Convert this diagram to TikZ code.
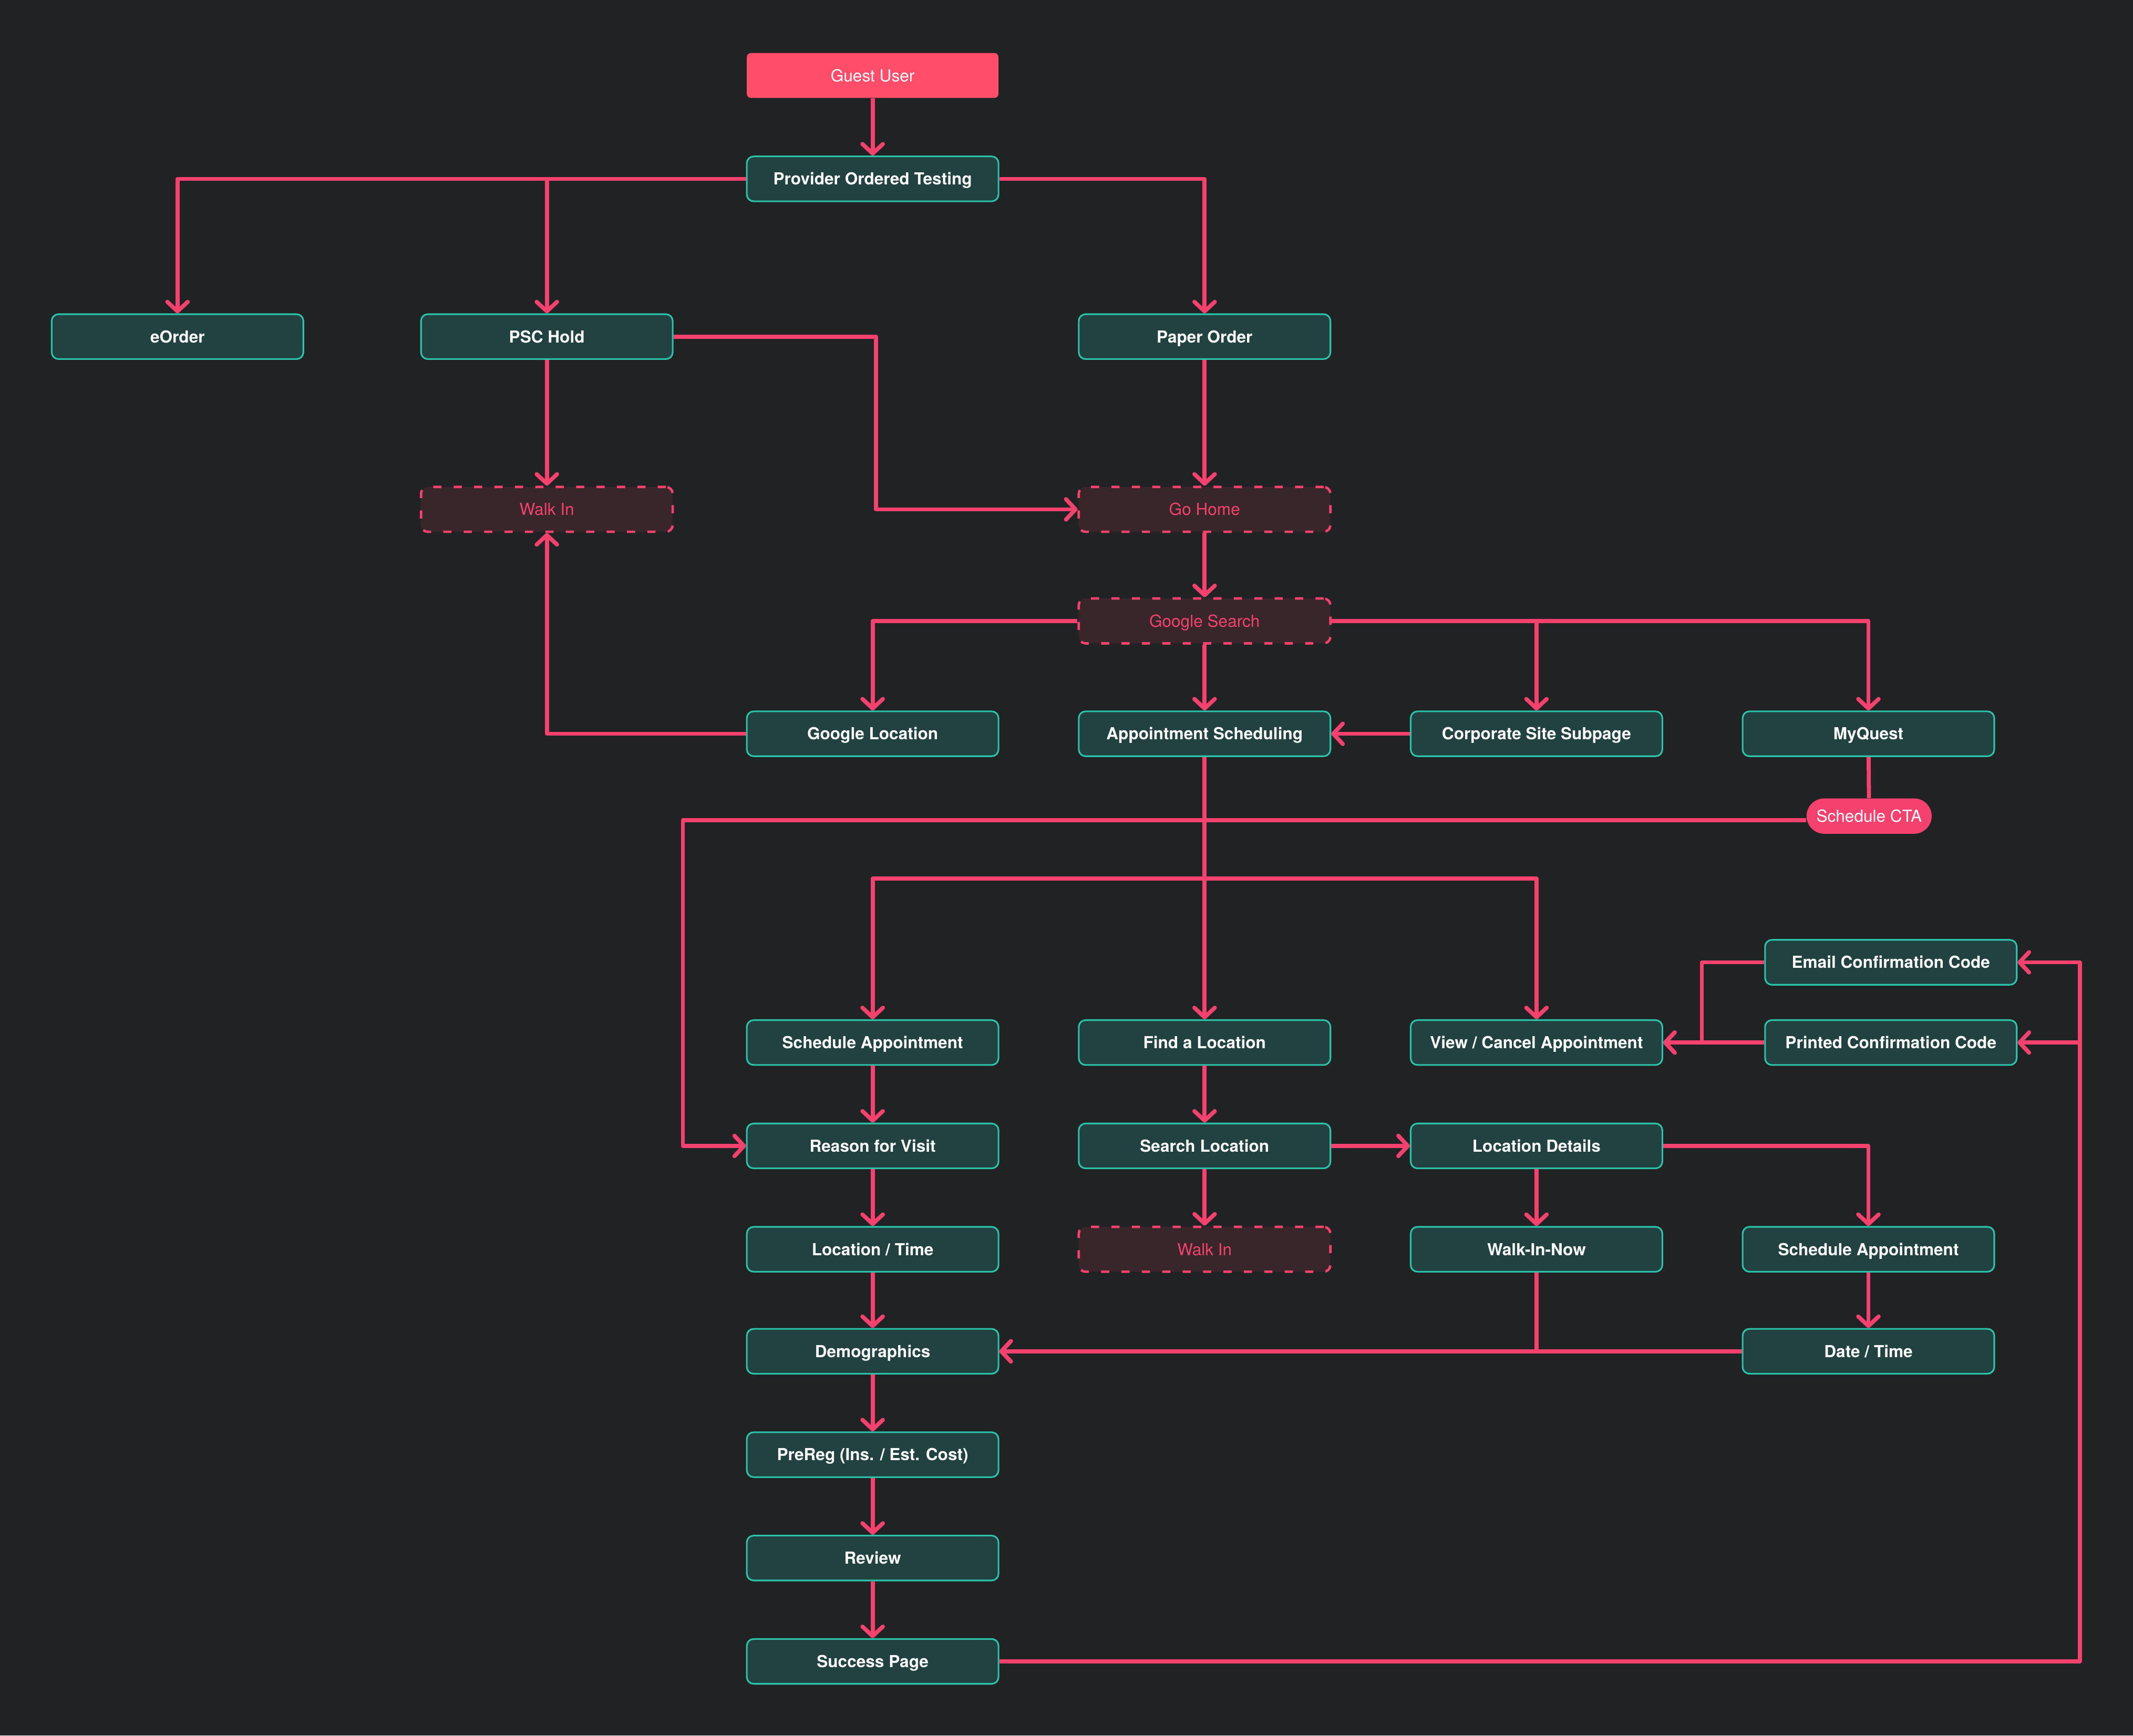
\documentclass[tikz,border=0pt]{standalone}
\usepackage{fontspec}
\setmainfont{TeX Gyre Heros}
\usetikzlibrary{arrows.meta,calc}
\definecolor{bgc}{HTML}{212224}
\definecolor{tealfill}{HTML}{224241}
\definecolor{tealline}{HTML}{2BC4AA}
\definecolor{pinkc}{HTML}{F4416D}
\definecolor{guestfill}{HTML}{FF4D6A}
\definecolor{dfill}{HTML}{39262A}
\begin{document}
\begin{tikzpicture}[x=1pt,y=-1pt,
  base/.style={minimum width=185pt, minimum height=33pt, inner sep=0pt,
    text height=8.8pt, text depth=0pt},
  box/.style={base, draw=tealline, fill=tealfill, line width=1.2pt, rounded corners=5pt,
    text=white, font=\fontsize{12.2}{14}\selectfont\bfseries},
  dbox/.style={base, draw=pinkc, fill=dfill, line width=1.8pt, dash pattern=on 6pt off 9pt,
    rounded corners=5pt, text=pinkc, font=\fontsize{12.2}{14}\selectfont},
  gbox/.style={base, fill=guestfill, rounded corners=3pt,
    text=white, font=\fontsize{12.2}{14}\selectfont},
  ctabox/.style={fill=pinkc, rounded corners=13pt, minimum width=92pt, minimum height=26pt,
    inner sep=0pt, text height=8.8pt, text depth=0pt, text=white, font=\fontsize{12.2}{14}\selectfont},
  ln/.style={draw=pinkc, line width=3pt, line join=round},
  arr/.style={ln, -{Straight Barb[length=7pt,width=15pt,round]}},
]
\useasboundingbox (0,0) rectangle (1568,1276);
\fill[bgc] (0,0) rectangle (1568,1276);

% nodes
\node[gbox] (gu) at (641.5,55.5) {Guest User};
\node[box] (pot) at (641.5,131.5) {Provider Ordered Testing};
\node[box] (eorder) at (130.5,247.5) {eOrder};
\node[box] (psc) at (402,247.5) {PSC Hold};
\node[box] (paper) at (885.5,247.5) {Paper Order};
\node[dbox] (walkin1) at (402,374.5) {Walk In};
\node[dbox] (gohome) at (885.5,374.5) {Go Home};
\node[dbox] (gsearch) at (885.5,456.5) {Google Search};
\node[box] (gloc) at (641.5,539.5) {Google Location};
\node[box] (appt) at (885.5,539.5) {Appointment Scheduling};
\node[box] (corp) at (1129.5,539.5) {Corporate Site Subpage};
\node[box] (myq) at (1373.5,539.5) {MyQuest};
\node[ctabox] (cta) at (1374,600) {Schedule CTA};
\node[box] (email) at (1390,707.5) {Email Confirmation Code};
\node[box] (sched1) at (641.5,766.5) {Schedule Appointment};
\node[box] (findloc) at (885.5,766.5) {Find a Location};
\node[box] (viewc) at (1129.5,766.5) {View / Cancel Appointment};
\node[box] (printed) at (1390,766.5) {Printed Confirmation Code};
\node[box] (reason) at (641.5,842.5) {Reason for Visit};
\node[box] (searchloc) at (885.5,842.5) {Search Location};
\node[box] (locdet) at (1129.5,842.5) {Location Details};
\node[box] (loctime) at (641.5,918.5) {Location / Time};
\node[dbox] (walkin2) at (885.5,918.5) {Walk In};
\node[box] (walknow) at (1129.5,918.5) {Walk-In-Now};
\node[box] (sched2) at (1373.5,918.5) {Schedule Appointment};
\node[box] (demo) at (641.5,993.5) {Demographics};
\node[box] (datetime) at (1373.5,993.5) {Date / Time};
\node[box] (prereg) at (641.5,1069.5) {PreReg (Ins. / Est. Cost)};
\node[box] (review) at (641.5,1145.5) {Review};
\node[box] (success) at (641.5,1221.5) {Success Page};

% routing helpers
\coordinate (hub) at (885.5,646);
\coordinate (kx1) at (644,0);
\coordinate (kx2) at (502,0);
\coordinate (kx3) at (1251,0);
\coordinate (kx4) at (1529,0);

% connectors
\draw[arr] (gu) -- (pot);
\draw[arr] (pot.west) -| (eorder.north);
\draw[arr] (pot.west) -| (psc.north);
\draw[arr] (pot.east) -| (paper.north);
\draw[arr] (psc) -- (walkin1);
\draw[arr] (psc.east) -- (psc.east -| kx1) |- (gohome.west);
\draw[arr] (paper) -- (gohome);
\draw[arr] (gohome) -- (gsearch);
\draw[arr] (gsearch.west) -| (gloc.north);
\draw[arr] (gsearch) -- (appt);
\draw[arr] (gsearch.east) -| (corp.north);
\draw[arr] (gsearch.east) -| (myq.north);
\draw[arr] (gloc.west) -| (walkin1.south);
\draw[arr] (corp) -- (appt);
\draw[ln] (myq) -- (cta);
\draw[arr] ([yshift=-3pt]cta.west) -- ([yshift=-3pt]cta.west -| kx2) |- (reason.west);
\draw[ln] (appt) -- (hub);
\draw[arr] (hub) -| (sched1.north);
\draw[arr] (hub) -- (findloc);
\draw[arr] (hub) -| (viewc.north);
\draw[arr] (email.west) -- (email.west -| kx3) |- (viewc.east);
\draw[arr] (printed) -- (viewc);
\draw[arr] (sched1) -- (reason);
\draw[arr] (reason) -- (loctime);
\draw[arr] (loctime) -- (demo);
\draw[arr] (demo) -- (prereg);
\draw[arr] (prereg) -- (review);
\draw[arr] (review) -- (success);
\draw[arr] (findloc) -- (searchloc);
\draw[arr] (searchloc) -- (walkin2);
\draw[arr] (searchloc) -- (locdet);
\draw[arr] (locdet) -- (walknow);
\draw[arr] (locdet.east) -| (sched2.north);
\draw[arr] (sched2) -- (datetime);
\draw[arr] (walknow.south) |- (demo.east);
\draw[arr] (datetime) -- (demo);
\draw[arr] (success.east) -- (success.east -| kx4) |- (email.east);
\draw[arr] (success.east -| kx4) |- (printed.east);
\end{tikzpicture}
\end{document}
